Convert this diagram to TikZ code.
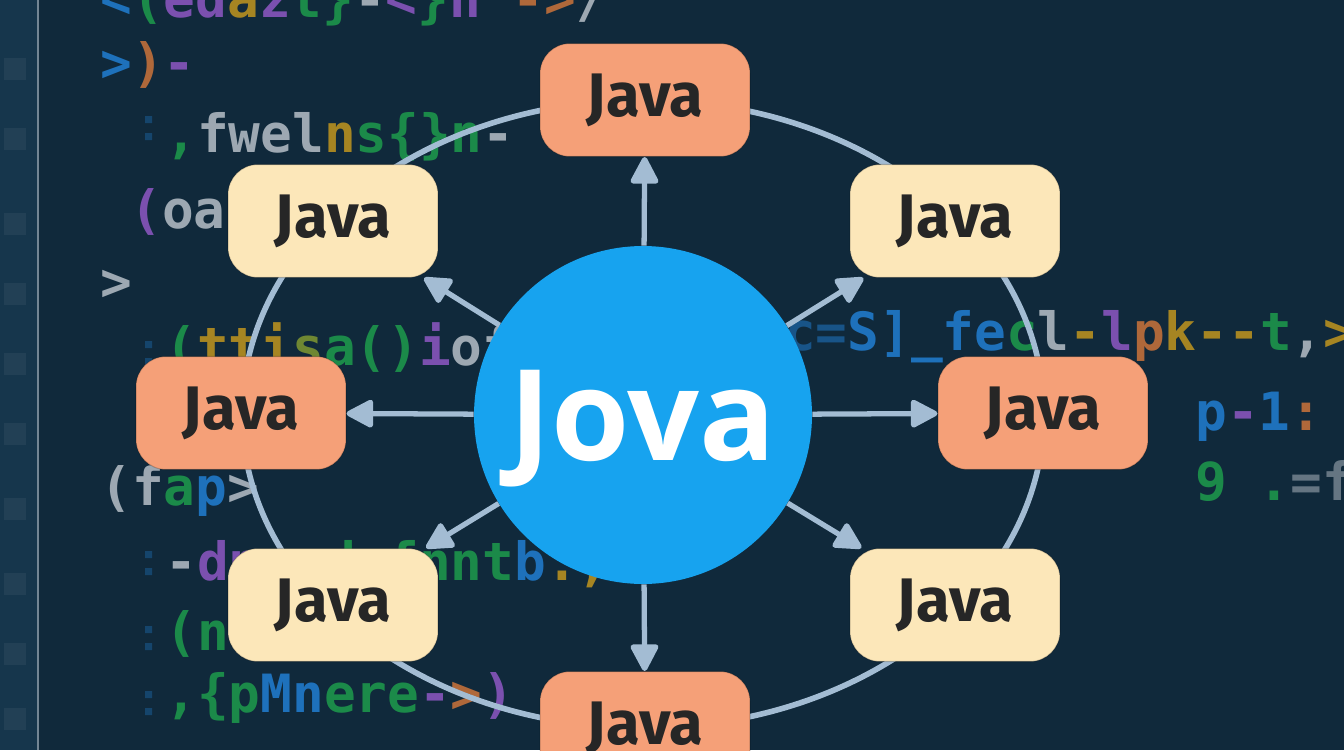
\documentclass[tikz,border=0pt]{standalone}
\usepackage{fontspec}
\setmainfont{Open Sans}
\newfontfamily\boxfont{Fira Sans}
\newfontfamily\codefont{DejaVu Sans Mono}
\usetikzlibrary{arrows.meta}

\definecolor{bgnavy}{HTML}{10293B}
\definecolor{gutter}{HTML}{16364C}
\definecolor{ringblue}{HTML}{A3BCD3}
\definecolor{hubblue}{HTML}{17A3EF}
\definecolor{javaorange}{HTML}{F5A078}
\definecolor{javacream}{HTML}{FCE7B9}
\definecolor{cblue}{HTML}{2286E0}
\definecolor{cgreen}{HTML}{1FA64E}
\definecolor{cpurple}{HTML}{9A5CD0}
\definecolor{cyellow}{HTML}{D1A01C}
\definecolor{corange}{HTML}{DD7A3A}
\definecolor{cgray}{HTML}{C5CDD4}

\begin{document}
\begin{tikzpicture}[x=0.02cm, y=-0.02cm,
    box/.style={rounded corners=0.6cm, minimum width=4.2cm, minimum height=2.26cm,
        draw=black, draw opacity=0.2, line width=0.6pt, text=black!85,
        font=\boxfont\bfseries\fontsize{35}{35}\selectfont},
    hot/.style={box, fill=javaorange},
    soft/.style={box, fill=javacream},
    spoke/.style={ringblue, line width=3pt, -{Triangle[length=17pt,width=17pt,round]}},
    code/.style={anchor=base west, inner sep=0pt, opacity=0.78,
        font=\codefont\bfseries\fontsize{30}{30}\selectfont}]

    % Background and editor gutter
    \fill[bgnavy] (0,0) rectangle (1344,750);
    \useasboundingbox (0,0) rectangle (1344,750);
    \clip (0,0) rectangle (1344,750);
    \fill[gutter] (0,0) rectangle (38,750);
    \draw[gutter!60!white, line width=1.5pt] (38,0) -- (38,750);
    \foreach \y in {70,140,225,295,365,435,510,585,655,720}
        \fill[cgray, opacity=0.07] (4,\y-12) rectangle (26,\y+10);
    \foreach \y in {130,355,565,640,705}
        \fill[cblue!30!bgnavy] (145,\y-14) rectangle (152,\y-7) (145,\y+3) rectangle (152,\y+10);

    % Blurred code in the back
    \node[code] (code1) at (100,18) {\textcolor{cblue}{<}\textcolor{cgreen}{(}\textcolor{cpurple}{ed}\textcolor{cyellow}{a}\textcolor{cpurple}{z}\textcolor{cgreen}{t\}}\textcolor{cgray}{-}\textcolor{cpurple}{<}\textcolor{cgreen}{\}}\textcolor{cpurple}{n} \textcolor{corange}{->}\textcolor{cgray}{/}};
    \node[code] (code2) at (100,82) {\textcolor{cblue}{>}\textcolor{corange}{)}\textcolor{cpurple}{-}};
    \node[code] (code3) at (165,152) {\textcolor{cgreen}{,}\textcolor{cgray}{fwel}\textcolor{cyellow}{n}\textcolor{cgreen}{s\{\}n}\textcolor{cgray}{ -}};
    \node[code] (code4) at (130,228) {\textcolor{cpurple}{(}\textcolor{cgray}{oa}};
    \node[code] (code5) at (100,300) {\textcolor{cgray}{>}};
    \node[code] (code6) at (165,365) {\textcolor{cgreen}{(}\textcolor{cyellow}{tti}\textcolor{cyellow!60!cgreen}{s}\textcolor{cgreen}{a()}\textcolor{cpurple}{i}\textcolor{cgray}{of}};
    \node[code] (code7) at (100,505) {\textcolor{cgray}{(f}\textcolor{cgreen}{a}\textcolor{cblue}{p}\textcolor{cgray}{>}};
    \node[code] (code8) at (165,580) {\textcolor{cgray}{-}\textcolor{cpurple}{dn}\textcolor{cgreen}{\_zd-fn}\textcolor{cgreen}{n}\textcolor{cgreen}{t}\textcolor{cblue}{b}\textcolor{cyellow}{.,}};
    \node[code] (code9) at (165,650) {\textcolor{cgreen}{(n}};
    \node[code] (code10) at (165,712) {\textcolor{cgreen}{,\{p}\textcolor{cblue}{Mn}\textcolor{cgreen}{ere}\textcolor{cpurple}{-}\textcolor{corange}{>}\textcolor{cpurple}{)}};
    \node[code] (code11) at (752,350) {\textcolor{cblue!60!bgnavy}{vc=}\textcolor{cblue}{S]\_fe}\textcolor{cgreen}{c}\textcolor{cgray}{l}\textcolor{cyellow}{-}\textcolor{cpurple}{l}\textcolor{corange}{p}\textcolor{cyellow}{k--}\textcolor{cgreen}{t}\textcolor{cgray}{,}\textcolor{cyellow}{>}};
    \node[code] (code12) at (1195,430) {\textcolor{cblue}{p}\textcolor{cpurple}{-}\textcolor{cblue}{1}\textcolor{corange}{:}};
    \node[code] (code13) at (1195,500) {\textcolor{cgreen}{9 .}\textcolor{cgray!60!bgnavy}{=f}};

    % Ring through the boxes
    \coordinate (ctr) at (643,414);
    \draw[ringblue, line width=3.2pt] (ctr) ellipse [x radius=8.02cm, y radius=6.28cm];

    % Hub and boxes
    \node[circle, fill=hubblue, minimum size=6.76cm, inner sep=0pt, text=white, text depth=0pt,
        font=\bfseries\fontsize{72}{72}\selectfont] (hub) at (643,415) {Jova};
    \node[hot]  (top)    at (645,100) {Java};
    \node[soft] (tl)     at (333,221) {Java};
    \node[soft] (tr)     at (955,221) {Java};
    \node[hot]  (left)   at (241,413) {Java};
    \node[hot]  (right)  at (1043,413) {Java};
    \node[soft] (bl)     at (333,605) {Java};
    \node[soft] (br)     at (955,605) {Java};
    \node[hot]  (bottom) at (645,728) {Java};

    % Spokes
    \foreach \n in {top,tl,tr,left,right,bl,br,bottom}
        \draw[spoke] (hub) -- (\n);
\end{tikzpicture}
\end{document}
